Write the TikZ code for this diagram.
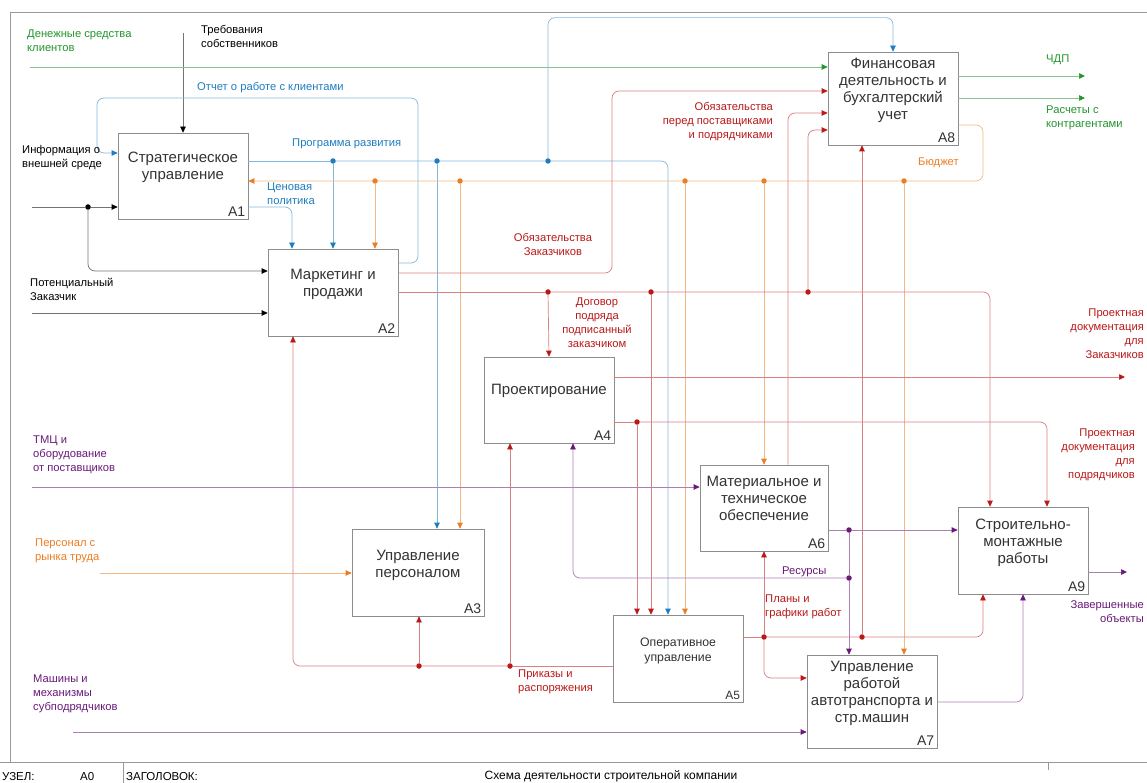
\documentclass[tikz,border=0pt]{standalone}
\usepackage{fontspec}
\setmainfont{Liberation Sans}
\usetikzlibrary{arrows.meta}
\definecolor{ublue}{RGB}{30,125,190}
\definecolor{ured}{RGB}{185,25,25}
\definecolor{uorange}{RGB}{235,125,35}
\definecolor{ugreen}{RGB}{35,150,45}
\definecolor{upurple}{RGB}{105,25,120}
\begin{document}
\begin{tikzpicture}[x=1pt, y=-1pt,
box/.style={draw=black!45, fill=white, line width=0.7pt, minimum width=130pt, minimum height=86pt, inner sep=0pt},
ttl/.style={align=center, inner sep=0pt, text=black!80, font=\fontsize{15}{17}\selectfont},
num/.style={anchor=south east, inner sep=3pt, text=black!80, font=\fontsize{14}{17}\selectfont},
lbl/.style={align=left, inner sep=0pt, font=\fontsize{11.2}{14}\selectfont},
fl/.style={draw=#1!55, line width=0.7pt, rounded corners=7pt, -{Triangle[color=#1, length=6pt, width=5.5pt]}},
ln/.style={draw=#1!55, line width=0.7pt, rounded corners=7pt},
dot/.style={circle, fill=#1, inner sep=0pt, minimum size=5.5pt}]
\useasboundingbox (0,0) rectangle (1147,783);
\draw[black!40, line width=0.7pt] (10,762) -- (10,12) -- (1147,12);
\draw[black!40, line width=0.7pt] (0,762) -- (1147,762);
\draw[black!40, line width=0.7pt] (123,762) -- (123,783);
\draw[black!40, line width=0.7pt] (1048,762) -- (1048,770);
\node[lbl, anchor=west, font=\fontsize{11.5}{14}\selectfont] (uzel) at (2,777) {УЗЕЛ:};
\node[lbl, anchor=west, font=\fontsize{11.5}{14}\selectfont] (uzelnum) at (80,777) {A0};
\node[lbl, anchor=west, font=\fontsize{11.5}{14}\selectfont] (zag) at (126,777) {ЗАГОЛОВОК:};
\node[lbl, font=\fontsize{12}{14}\selectfont] (title) at (611,776) {Схема деятельности строительной компании};

\node[box, label={[num]south east:A1}] (a1) at (183,176) {};
\node[ttl] (t1) at ([yshift=8.5pt]a1.center) {Стратегическое\\управление};
\node[box, minimum height=87pt, label={[num]south east:A2}] (a2) at (333,292.5) {};
\node[ttl] (t2) at ([yshift=8.5pt]a2.center) {Маркетинг и\\продажи};
\node[box, minimum width=132pt, minimum height=87pt, label={[num]south east:A3}] (a3) at (418,572.5) {};
\node[ttl] (t3) at ([yshift=7.5pt]a3.center) {Управление\\персоналом};
\node[box, label={[num]south east:A4}] (a4) at (549,400) {};
\node[ttl] (t4) at ([yshift=9pt]a4.center) {Проектирование};
\node[box, minimum height=87pt, label={[num, font=\fontsize{12}{15}\selectfont]south east:A5}] (a5) at (678,658.5) {};
\node[ttl, font=\fontsize{12.3}{15}\selectfont] (t5) at ([yshift=7.5pt]a5.center) {Оперативное\\управление};
\node[box, minimum width=128pt, label={[num]south east:A6}] (a6) at (764,508) {};
\node[ttl] (t6) at ([yshift=9.5pt]a6.center) {Материальное и\\техническое\\обеспечение};
\node[box, minimum height=93pt, label={[num]south east:A7}] (a7) at (872,701.5) {};
\node[ttl] (t7) at ([yshift=8pt]a7.center) {Управление\\работой\\автотранспорта и\\стр.машин};
\node[box, minimum height=93pt, label={[num]south east:A8}] (a8) at (893,98.5) {};
\node[ttl] (t8) at ([yshift=8pt]a8.center) {Финансовая\\деятельность и\\бухгалтерский\\учет};
\node[box, minimum height=87pt, label={[num]south east:A9}] (a9) at (1023,550.5) {};
\node[ttl] (t9) at ([yshift=8pt]a9.center) {Строительно-\\монтажные\\работы};

\node[dot=black] (pinf) at (88,207) {};
\node[dot=ublue] (pr1) at (333,161) {};
\node[dot=ublue] (pr2) at (437,161) {};
\node[dot=ublue] (pr3) at (548,161) {};
\node[dot=uorange] (b1) at (375,181) {};
\node[dot=uorange] (b2) at (460,181) {};
\node[dot=uorange] (b3) at (685,181) {};
\node[dot=uorange] (b4) at (764,181) {};
\node[dot=uorange] (b5) at (904,181) {};
\node[dot=ured] (d1) at (548,292) {};
\node[dot=ured] (d2) at (651,292) {};
\node[dot=ured] (d3) at (808,292) {};
\node[dot=ured] (q1) at (637,422) {};
\node[dot=ured] (s1) at (764,637) {};
\node[dot=ured] (s2) at (862,637) {};
\node[dot=ured] (k1) at (510,666) {};
\node[dot=ured] (k2) at (419,666) {};
\node[dot=upurple] (r1) at (849,530) {};
\node[dot=upurple] (r2) at (849,578) {};

\coordinate (trebS) at (183,33);
\coordinate (infS) at (32,207);
\coordinate (potS) at (32,313);
\coordinate (denS) at (30,67);
\coordinate (chdpE) at (1085,76);
\coordinate (rasE) at (1085,98);
\coordinate (perS) at (100,573);
\coordinate (tmcS) at (32,487);
\coordinate (mashS) at (73,732);
\coordinate (pdzE) at (1125,377);
\coordinate (zavE) at (1127,572);

\draw[fl=black] (trebS) -- (a1.north);
\draw[fl=black] (infS) -- (pinf) -- (a1.west |- pinf);
\draw[fl=black] (pinf) |- (a2.west |- 0,271);
\draw[fl=black] (potS) -- (a2.west |- potS);

\draw[fl=ugreen] (denS) -- (a8.west |- denS);
\draw[fl=ugreen] (a8.east |- chdpE) -- (chdpE);
\draw[fl=ugreen] (a8.east |- rasE) -- (rasE);

\draw[fl=ublue] (a2.east |- 0,263) -- (418,263) |- (97,98) |- (a1.west |- 0,153);
\draw[ln=ublue] (a1.east |- pr1) -- (pr1);
\draw[fl=ublue] (pr1) -- (pr2) -- (pr3) -| ([xshift=-10pt]a5.north);
\draw[fl=ublue] (pr1) -- (pr1 |- a2.north);
\draw[fl=ublue] (pr2) -- (pr2 |- a3.north);
\draw[fl=ublue] (pr3) |- ([yshift=34pt]a8.north) -- (a8.north);
\draw[fl=ublue] (a1.east |- 0,207) -| ([xshift=-41pt]a2.north);

\draw[fl=uorange] (a8.east |- 0,125) -- (983,125) |- (b5) -- (b4) -- (b3) -- (b2) -- (b1) -- (a1.east |- b1);
\draw[fl=uorange] (b1) -- (b1 |- a2.north);
\draw[fl=uorange] (b2) -- (b2 |- a3.north);
\draw[fl=uorange] (b3) -- (b3 |- a5.north);
\draw[fl=uorange] (b4) -- (a6.north);
\draw[fl=uorange] (b5) -- (b5 |- a7.north);
\draw[fl=uorange] (perS) -- (a3.west |- perS);

\draw[fl=ured] (a2.east |- 0,273) -- (612,273) |- (a8.west |- 0,91);
\draw[ln=ured] (a2.east |- d1) -- (d1);
\draw[fl=ured] (d1) -- (d2) -- (d3) -| ([xshift=-33pt]a9.north);
\draw[fl=ured] (d1) -- (a4.north);
\draw[fl=ured] (d2) -- (d2 |- a5.north);
\draw[fl=ured] (d3) |- (a8.west |- 0,130);
\draw[fl=ured] ([xshift=24pt]a6.north) |- (a8.west |- 0,113);
\draw[fl=ured] (a4.east |- pdzE) -- (pdzE);
\draw[ln=ured] (a4.east |- q1) -- (q1);
\draw[fl=ured] (q1) -| ([xshift=24pt]a9.north);
\draw[fl=ured] (q1) -- (q1 |- a5.north);
\draw[ln=ured] (a5.east |- s1) -- (s1);
\draw[fl=ured] (s1) -- (s2) -| ([xshift=-40pt]a9.south);
\draw[fl=ured] (s1) -- (a6.south);
\draw[fl=ured] (s1) |- (a7.west |- 0,678);
\draw[fl=ured] (s2) -- (s2 |- a8.south);
\draw[ln=ured] (a5.west |- k1) -- (k1);
\draw[fl=ured] (k1) -- (k2) -| ([xshift=-40pt]a2.south);
\draw[fl=ured] (k1) -- (k1 |- a4.south);
\draw[fl=ured] (k2) -- (k2 |- a3.south);

\draw[fl=upurple] (tmcS) -- (a6.west |- tmcS);
\draw[fl=upurple] (mashS) -- (a7.west |- mashS);
\draw[ln=upurple] (a6.east |- r1) -- (r1);
\draw[fl=upurple] (r1) -- (a9.west |- r1);
\draw[ln=upurple] (r1) -- (r2);
\draw[fl=upurple] (r2) -- (r2 |- a7.north);
\draw[fl=upurple] (r2) -| ([xshift=24pt]a4.south);
\draw[fl=upurple] (a7.east |- 0,702) -| (a9.south);
\draw[fl=upurple] (a9.east |- zavE) -- (zavE);

\node[lbl, anchor=north west] (treb) at (201,25) {Требования\\собственников};
\node[lbl, anchor=north west] (inf) at (22,145) {Информация о\\внешней среде};
\node[lbl, anchor=north west] (pot) at (30,278) {Потенциальный\\Заказчик};
\node[lbl, anchor=north west, text=ugreen] (den) at (27,30) {Денежные средства\\клиентов};
\node[lbl, anchor=west, text=ugreen] (chdp) at (1046,60) {ЧДП};
\node[lbl, anchor=north west, text=ugreen] (ras) at (1046,106) {Расчеты с\\контрагентами};
\node[lbl, anchor=west, text=ublue] (otch) at (197,88) {Отчет о работе с клиентами};
\node[lbl, anchor=west, text=ublue] (prog) at (292,144) {Программа развития};
\node[lbl, anchor=north west, text=ublue] (cen) at (267,183) {Ценовая\\политика};
\node[lbl, anchor=west, text=uorange] (bud) at (918,163) {Бюджет};
\node[lbl, anchor=north west, text=uorange] (pers) at (35,539) {Персонал с\\рынка труда};
\node[lbl, align=center, text=ured] (obz) at (553,244) {Обязательства\\Заказчиков};
\node[lbl, align=right, anchor=north east, text=ured] (obp) at (773,102) {Обязательства\\перед поставщиками\\и подрядчиками};
\node[lbl, align=center, text=ured] (dog) at (597,323) {Договор\\подряда\\подписанный\\заказчиком};
\node[lbl, align=right, anchor=north east, text=ured] (pdz) at (1144,309) {Проектная\\документация\\для\\Заказчиков};
\node[lbl, align=right, anchor=north east, text=ured] (pdp) at (1135,429) {Проектная\\документация\\для\\подрядчиков};
\node[lbl, anchor=north west, text=ured] (plan) at (765,595) {Планы и\\графики работ};
\node[lbl, anchor=north west, text=ured] (prik) at (518,670) {Приказы и\\распоряжения};
\node[lbl, anchor=west, text=upurple] (res) at (782,572) {Ресурсы};
\node[lbl, anchor=north west, text=upurple] (tmc) at (33,436) {ТМЦ и\\оборудование\\от поставщиков};
\node[lbl, anchor=north west, text=upurple] (mash) at (33,675) {Машины и\\механизмы\\субподрядчиков};
\node[lbl, align=right, anchor=north east, text=upurple] (zav) at (1144,600) {Завершенные\\объекты};
\end{tikzpicture}
\end{document}
